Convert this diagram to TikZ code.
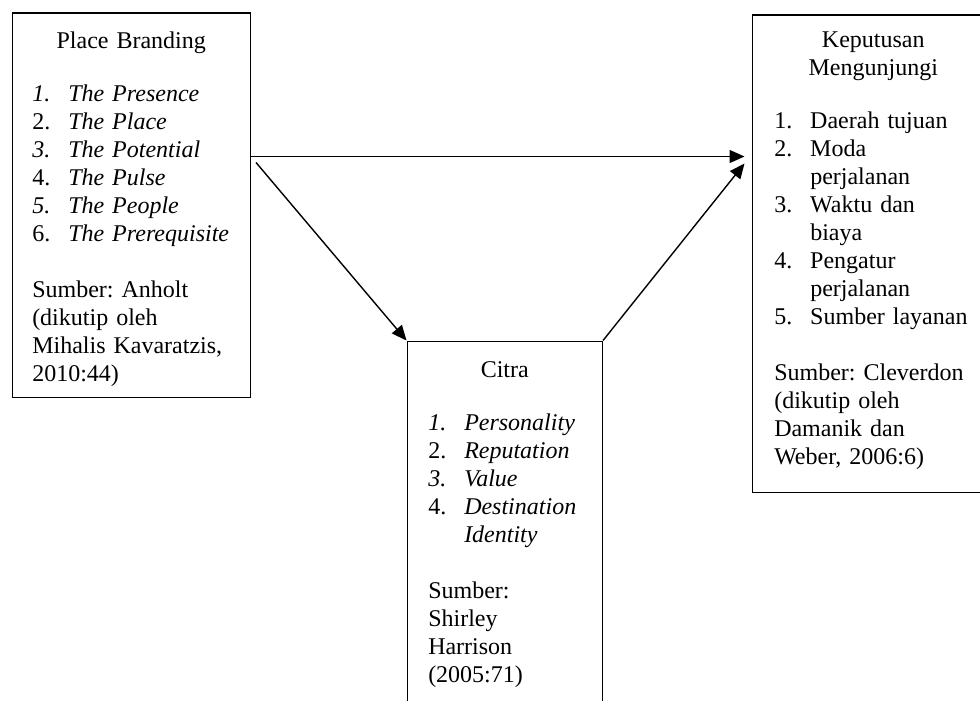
\documentclass[tikz,border=0pt]{standalone}
\usepackage{fontspec}
\setmainfont{Liberation Serif}
\usetikzlibrary{positioning,arrows.meta}
\frenchspacing
\newcommand{\listno}[1]{\makebox[36pt][l]{#1}}
\newcommand{\boxhead}[1]{\noindent\hbox to\hsize{\hfil#1\hfil}}

\begin{document}
\begin{tikzpicture}[
    x=1pt, y=1pt,
    box/.style={rectangle, draw, line width=1.5pt, anchor=north west, align=left, inner xsep=20pt, inner ysep=0pt, font=\fontsize{24pt}{28pt}\selectfont},
    arrow/.style={-{Triangle[length=15pt,width=13pt]}, line width=1.4pt}
]
    \useasboundingbox (0,0) rectangle (980,-701);
    \clip (0,0) rectangle (980,-701);

    % Place Branding
    \node[box, text width=198pt, text height=35pt, text depth=349pt] (place) at (11.5,-12.5) {\boxhead{Place Branding}\\[25pt]
        \listno{\textit{1.}}\textit{The Presence}\\
        \listno{2.}\textit{The Place}\\
        \listno{\textit{3.}}\textit{The Potential}\\
        \listno{4.}\textit{The Pulse}\\
        \listno{\textit{5.}}\textit{The People}\\
        \listno{6.}\textit{The Prerequisite}\\[28pt]
        Sumber: Anholt\\
        (dikutip oleh\\
        Mihalis Kavaratzis,\\
        2010:44)};

    % Citra
    \node[box, text width=153pt, inner xsep=21pt, text height=36pt, text depth=400pt, below right=328pt and 155.5pt of place.north east, anchor=north west] (citra) {\boxhead{Citra}\\[25pt]
        \listno{\textit{1.}}\textit{Personality}\\
        \listno{2.}\textit{Reputation}\\
        \listno{\textit{3.}}\textit{Value}\\
        \listno{4.}\textit{Destination}\\
        \listno{}\textit{Identity}\\[28pt]
        Sumber:\\
        Shirley\\
        Harrison\\
        (2005:71)};

    % Keputusan Mengunjungi
    \node[box, text width=198pt, inner xsep=22pt, text height=32pt, text depth=445pt, right=500.5pt of place.north east, anchor=north west, yshift=-2pt] (keputusan) {\boxhead{Keputusan}\\
        \boxhead{Mengunjungi}\\[25pt]
        \listno{1.}Daerah tujuan\\
        \listno{2.}Moda\\
        \listno{}perjalanan\\
        \listno{3.}Waktu dan\\
        \listno{}biaya\\
        \listno{4.}Pengatur\\
        \listno{}perjalanan\\
        \listno{5.}Sumber layanan\\[28pt]
        Sumber: Cleverdon\\
        (dikutip oleh\\
        Damanik dan\\
        Weber, 2006:6)};

    % Arrows
    \draw[arrow] ([yshift=-144pt]place.north east) -- ([shift={(-7pt,-142pt)}]keputusan.north west);
    \draw[arrow] ([shift={(5pt,-150pt)}]place.north east) -- (citra.north west);
    \draw[arrow] (citra.north east) -- ([shift={(-7pt,-149pt)}]keputusan.north west);
\end{tikzpicture}
\end{document}
